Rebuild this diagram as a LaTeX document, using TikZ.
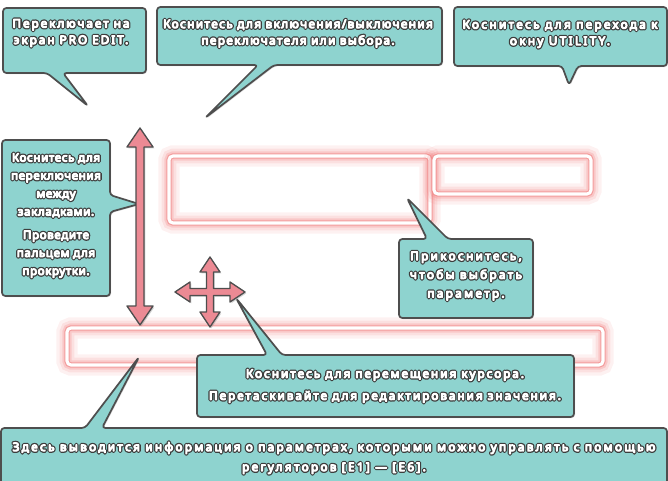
\documentclass[tikz,border=0pt]{standalone}
\usepackage{fontspec}
\setmainfont{Noto Sans}[LetterSpace=20]
\usetikzlibrary{calc,shadows}
\definecolor{tealc}{HTML}{8ED3CF}
\definecolor{bordc}{HTML}{4E4E4E}
\definecolor{pinkc}{HTML}{EC8A94}
\definecolor{glowc}{HTML}{F07A7A}
\newcommand{\ct}[1]{\rlap{\special{pdf:literal direct 2 Tr 2.7 w 1 j 0.24 0.24 0.24 RG 0.24 0.24 0.24 rg}#1\special{pdf:literal direct 0 Tr}}\special{pdf:literal direct 2 Tr 0.8 w 1 j 1 1 1 RG 1 1 1 rg}#1\special{pdf:literal direct 0 Tr}}
\tikzset{
  boxn/.style={inner sep=0pt, outer sep=0pt},
  callout/.style={fill=tealc, draw=bordc, line width=1.3pt, rounded corners=2.5pt, line join=round,
    drop shadow={opacity=0.3, shadow xshift=0.8pt, shadow yshift=-0.8pt}},
  txt/.style={text=white, font=\fontsize{8.8}{12.3}\selectfont, align=center, inner sep=0pt},
  glowbox/.style={draw=white, line width=2.3pt, rounded corners=3pt, inner sep=0pt,
    preaction={draw=glowc, draw opacity=0.10, line width=16pt},
    preaction={draw=glowc, draw opacity=0.15, line width=11pt},
    preaction={draw=glowc, draw opacity=0.24, line width=7pt},
    preaction={draw=glowc!85, draw opacity=0.75, line width=4pt}},
  pinkarrow/.style={fill=pinkc, draw=bordc, line width=1pt, line join=round,
    drop shadow={opacity=0.35, shadow xshift=1pt, shadow yshift=-1pt}},
}
\begin{document}
\begin{tikzpicture}[x=0.75pt,y=-0.75pt]
\useasboundingbox (0,0) rectangle (668,481);
% box frames (named, drawn later as callouts)
\node[boxn, minimum width=143*0.75pt, minimum height=65*0.75pt] (b1) at (74.5,40.5) {};
\node[boxn, minimum width=285*0.75pt, minimum height=58*0.75pt] (b2) at (299.5,36) {};
\node[boxn, minimum width=213*0.75pt, minimum height=59*0.75pt] (b3) at (560.5,36.5) {};
\node[boxn, minimum width=108*0.75pt, minimum height=156*0.75pt] (b4) at (56,218) {};
\node[boxn, minimum width=134*0.75pt, minimum height=79*0.75pt] (b5) at (466,278.5) {};
\node[boxn, minimum width=377*0.75pt, minimum height=62*0.75pt] (b6) at (385.5,386) {};
\node[boxn, minimum width=666*0.75pt, minimum height=64*0.75pt] (b7) at (334,460) {};
% tail tips
\coordinate (t1) at (88,106);
\coordinate (t2) at (205,118);
\coordinate (t3) at (569,85);
\coordinate (t4) at (139,204);
\coordinate (t5) at (407,198);
\coordinate (t6) at (236,298);
\coordinate (t7) at (139,357);
% glowing rectangles
\node[glowbox, minimum width=261*0.75pt, minimum height=67*0.75pt] (r1) at (299.5,189.5) {};
\node[glowbox, minimum width=157*0.75pt, minimum height=38*0.75pt] (r2) at (512.5,175) {};
\node[glowbox, minimum width=536*0.75pt, minimum height=37*0.75pt] (r3) at (335,346.5) {};
% callouts
\draw[callout] (b1.north west) -- (b1.north east) -- (b1.south east) -- ($(b1.south west)+(60,0)$) -- (t1) -- ($(b1.south west)+(44,0)$) -- (b1.south west) -- cycle;
\draw[callout] (b2.north west) -- (b2.north east) -- (b2.south east) -- ($(b2.south west)+(117,0)$) -- (t2) -- ($(b2.south west)+(101,0)$) -- (b2.south west) -- cycle;
\draw[callout] (b3.north west) -- (b3.north east) -- (b3.south east) -- ($(b3.south west)+(124,0)$) -- (t3) -- ($(b3.south west)+(108,0)$) -- (b3.south west) -- cycle;
\draw[callout] (b4.north west) -- (b4.north east) -- ($(b4.north east)+(0,55)$) -- (t4) -- ($(b4.north east)+(0,72)$) -- (b4.south east) -- (b4.south west) -- cycle;
\draw[callout] (b5.north west) -- ($(b5.north west)+(28,0)$) -- (t5) -- ($(b5.north west)+(49,0)$) -- (b5.north east) -- (b5.south east) -- (b5.south west) -- cycle;
\draw[callout] (b6.north west) -- ($(b6.north west)+(70,0)$) -- (t6) -- ($(b6.north west)+(85,0)$) -- (b6.north east) -- (b6.south east) -- (b6.south west) -- cycle;
\draw[callout] (b7.north west) -- ($(b7.north west)+(84,0)$) -- (t7) -- ($(b7.north west)+(101,0)$) -- (b7.north east) -- (b7.south east) -- (b7.south west) -- cycle;
% vertical double arrow
\draw[pinkarrow] (140,128) -- (153,147) -- (144,147) -- (144,306) -- (153,306) -- (140,325) -- (127,306) -- (136,306) -- (136,147) -- (127,147) -- cycle;
% four-way arrow
\draw[pinkarrow] (210,257) -- (220,272) -- (213.5,272) -- (213.5,288.5) -- (230,288.5) -- (230,282) -- (245,292) -- (230,302) -- (230,295.5) -- (213.5,295.5) -- (213.5,312) -- (220,312) -- (210,327) -- (200,312) -- (206.5,312) -- (206.5,295.5) -- (190,295.5) -- (190,302) -- (175,292) -- (190,282) -- (190,288.5) -- (206.5,288.5) -- (206.5,272) -- (200,272) -- cycle;
% texts
\node[txt, font=\fontsize{8.8}{12.3}\selectfont\addfontfeatures{LetterSpace=17}] (x1) at (71,33) {\ct{Переключает на}\\\ct{экран PRO EDIT.}};
\node[txt, font=\fontsize{8.8}{12.3}\selectfont\addfontfeatures{LetterSpace=12}] (x2) at (298,33.5) {\ct{Коснитесь для включения/выключения}\\\ct{переключателя или выбора.}};
\node[txt] (x3) at (560,34) {\ct{Коснитесь для перехода к}\\\ct{окну UTILITY.}};
\node[txt, font=\fontsize{8.6}{13.5}\selectfont\addfontfeatures{LetterSpace=6}] (x4) at (56,215.5) {\ct{Коснитесь для}\\\ct{переключения}\\\ct{между}\\\ct{закладками.}\\[4pt]\ct{Проведите}\\\ct{пальцем для}\\\ct{прокрутки.}};
\node[txt, font=\fontsize{8.8}{14}\selectfont] (x5) at (466,276) {\ct{Прикоснитесь,}\\\ct{чтобы выбрать}\\\ct{параметр.}};
\node[txt, font=\fontsize{8.8}{16.5}\selectfont\addfontfeatures{LetterSpace=17}] (x6) at (385,386) {\ct{Коснитесь для перемещения курсора.}\\\ct{Перетаскивайте для редактирования значения.}};
\node[txt, font=\fontsize{8.8}{15}\selectfont] (x7) at (334,458) {\ct{Здесь выводится информация о параметрах, которыми можно управлять с помощью}\\\ct{регуляторов [E1] --- [E6].}};
\end{tikzpicture}
\end{document}
